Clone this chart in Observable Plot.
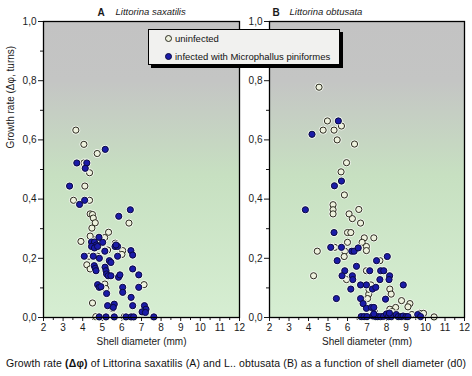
<!DOCTYPE html>
<html><head><meta charset="utf-8">
<script src="https://cdn.jsdelivr.net/npm/d3@7"></script>
<script src="https://cdn.jsdelivr.net/npm/@observablehq/plot@0.6"></script>
<style>
body{margin:0;background:#fff;font-family:"Liberation Sans",Arial,sans-serif;}
#wrap{position:relative;width:472px;height:376px;overflow:hidden;background:#fff}
.panel{position:absolute;top:0}
#legend{position:absolute;left:148px;top:29px;width:192px;height:36px;border:1px solid #000;box-shadow:3px 3px 0 #000;background:#f1f1ef;font-size:9.5px;color:#111;box-sizing:border-box}
#legend .row{position:absolute;left:15px;display:flex;align-items:center;gap:2px;white-space:nowrap}
#caption{position:absolute;left:0;top:357px;width:472px;text-align:center;font-size:10.5px;letter-spacing:0.12px;color:#111;white-space:nowrap}
</style></head>
<body>
<svg width="0" height="0" style="position:absolute">
  <defs>
    <linearGradient id="bgGrad" x1="0" y1="0" x2="0" y2="1">
      <stop offset="0" stop-color="#c3c3c3"/>
      <stop offset="0.2" stop-color="#c4c5c4"/>
      <stop offset="0.52" stop-color="#c7e0c1"/>
      <stop offset="1" stop-color="#d6eed2"/>
    </linearGradient>
  </defs>
</svg>
<div id="wrap"></div>
<script>
// ---- data ----
const xTicks = [2,3,4,5,6,7,8,9,10,11,12];
const xMinorTicks = [2.5,3.5,4.5,5.5,6.5,7.5,8.5,9.5,10.5,11.5];
const yTicks = [0,0.2,0.4,0.6,0.8,1.0];
const yMinorTicks = [0.1,0.3,0.5,0.7,0.9];
const panelLetters = ["A","B"];
const speciesNames = ["Littorina saxatilis","Littorina obtusata"];
const legendLabels = ["uninfected","infected with Microphallus piniformes"];
const xLabel = "Shell diameter (mm)";
const yLabel = "Growth rate (\u0394\u03c6, turns)";

const saxatilisUninfected = [
 [3.65,0.633],[4.06,0.585],[4.74,0.554],[4.06,0.522],[4.35,0.489],[4.11,0.444],[3.53,0.396],[4.35,0.396],
 [4.38,0.350],[4.50,0.348],[4.54,0.336],[6.36,0.319],[4.64,0.320],[4.47,0.302],[5.32,0.288],[4.38,0.275],
 [3.91,0.257],[5.12,0.270],[5.27,0.228],[5.66,0.251],[6.04,0.226],[6.00,0.213],[4.32,0.207],[4.76,0.207],
 [4.21,0.178],[4.38,0.164],[7.13,0.111],[5.13,0.113],[5.18,0.098],[4.50,0.049],[5.53,0.030],[4.67,0.003],
 [6.12,0.003],[4.62,0.262],[4.90,0.250]
];
const saxatilisInfected = [
 [5.15,0.568],[3.70,0.522],[4.21,0.522],[4.13,0.504],[3.33,0.444],[4.10,0.396],[3.84,0.382],[5.84,0.342],
 [6.43,0.364],[4.45,0.255],[4.60,0.255],[4.70,0.245],[4.45,0.240],[4.60,0.235],[4.76,0.240],[4.83,0.271],
 [5.02,0.254],[5.13,0.224],[5.65,0.240],[5.78,0.240],[5.70,0.245],[6.46,0.226],[6.55,0.211],[5.78,0.207],
 [4.08,0.207],[4.54,0.207],[4.85,0.200],[5.36,0.192],[5.44,0.186],[4.59,0.175],[4.64,0.166],[4.68,0.158],
 [5.14,0.170],[5.19,0.158],[5.22,0.147],[5.30,0.141],[5.44,0.141],[5.83,0.136],[5.90,0.144],[6.55,0.164],
 [6.86,0.144],[4.76,0.111],[4.84,0.102],[4.93,0.104],[5.22,0.081],[6.04,0.102],[6.04,0.085],[6.86,0.102],
 [6.47,0.068],[5.27,0.040],[5.61,0.045],[5.56,0.034],[6.55,0.040],[7.15,0.040],[7.23,0.028],[7.03,0.019],
 [7.20,0.017],[4.84,0.002],[5.19,0.002],[5.61,0.002],[6.21,0.002],[6.47,0.002],[6.60,0.002],[7.63,0.002]
];
const obtusataUninfected = [
 [4.54,0.778],[4.97,0.664],[5.69,0.647],[4.75,0.633],[5.31,0.633],[5.47,0.600],[6.36,0.586],[5.95,0.523],
 [5.67,0.492],[5.84,0.414],[5.26,0.381],[5.26,0.364],[5.26,0.350],[6.08,0.350],[6.25,0.334],[6.58,0.365],
 [6.67,0.319],[6.00,0.287],[6.17,0.287],[6.00,0.254],[6.86,0.269],[7.35,0.269],[6.75,0.254],[6.97,0.240],
 [6.97,0.226],[5.34,0.237],[5.86,0.224],[5.83,0.206],[4.45,0.224],[4.26,0.141],[7.66,0.192],[6.97,0.158],
 [5.95,0.128],[7.09,0.079],[8.17,0.096],[8.24,0.079],[7.03,0.064],[7.40,0.017],[8.77,0.057],[9.20,0.047],
 [9.10,0.036],[8.17,0.028],[8.47,0.034],[10.44,0.002],[9.69,0.014],[9.90,0.014],[7.20,0.110],[7.10,0.095],
 [8.30,0.020],[9.30,0.010],[8.60,0.006]
];
const obtusataInfected = [
 [5.53,0.664],[4.18,0.619],[5.69,0.461],[5.33,0.445],[3.84,0.364],[5.31,0.287],[5.14,0.237],[5.69,0.237],
 [6.22,0.224],[6.34,0.224],[6.55,0.235],[5.47,0.192],[6.46,0.173],[7.49,0.192],[8.04,0.206],[5.86,0.158],
 [5.72,0.141],[6.25,0.141],[6.27,0.128],[7.14,0.158],[7.70,0.158],[7.86,0.158],[8.16,0.141],[7.66,0.128],
 [8.13,0.128],[6.17,0.096],[6.67,0.110],[6.97,0.110],[7.28,0.096],[7.45,0.102],[8.86,0.110],[7.95,0.062],
 [5.43,0.064],[6.67,0.064],[6.80,0.047],[6.97,0.031],[7.23,0.034],[7.35,0.034],
 [6.70,0.003],[6.85,0.003],[7.00,0.003],[7.30,0.005],[7.45,0.003],[7.55,0.003],[7.70,0.003],[7.85,0.004],
 [8.00,0.012],[8.10,0.003],[8.25,0.003],[8.50,0.010],[8.60,0.003],[8.75,0.003],[8.85,0.005],[9.00,0.003],
 [9.10,0.003],[9.60,0.010],[9.75,0.003],[7.35,0.012],[8.15,0.015]
];

// ---- drawing ----
const fmt = d => d.toFixed(1).replace(".", ",");
const toObj = arr => arr.map(([x, y]) => ({x, y}));
const openFill = "#eef1de", filledFill = "#1b1ba8", haloFill = "#f3f7ef";

function panel(o) {
  const un = toObj(o.uninf), inf = toObj(o.inf);
  const marks = [
    Plot.frame({fill: "url(#bgGrad)"}),
    Plot.axisX(xMinorTicks, {tickSize: 3, tickFormat: () => "", label: null}),
    Plot.axisX(xTicks, {tickSize: 4, tickPadding: 2, tickFormat: d => String(d), label: null, fontSize: 10}),
    Plot.axisY(yMinorTicks, {tickSize: 3, tickFormat: () => "", label: null}),
    Plot.axisY(yTicks, {tickSize: 5, tickPadding: 2, tickFormat: fmt, label: null, fontSize: 10}),
    Plot.dot(un, {x: "x", y: "y", r: 4.4, fill: haloFill, stroke: null}),
    Plot.dot(un, {x: "x", y: "y", r: 3.1, fill: openFill, stroke: "#2a2a1e", strokeWidth: 1}),
    Plot.dot(inf, {x: "x", y: "y", r: 4.4, fill: haloFill, stroke: null}),
    Plot.dot(inf, {x: "x", y: "y", r: 3.1, fill: filledFill, stroke: "#0a0a40", strokeWidth: 1}),
    Plot.frame({stroke: "#000", strokeWidth: 1.3}),
    Plot.text([o.letter], {frameAnchor: "top-left", dx: o.letterDx, dy: -13, textAnchor: "start", fontSize: 10, fontWeight: "bold"}),
    Plot.text([o.species], {frameAnchor: "top-left", dx: o.speciesDx, dy: -13, textAnchor: "start", fontSize: 9.5, fontStyle: "italic"}),
    Plot.text([xLabel], {frameAnchor: "bottom", dy: 27, fontSize: 10})
  ];
  if (o.ylabel) marks.push(Plot.text([o.ylabel], {frameAnchor: "left", rotate: -90, dx: -33, dy: -21, fontSize: 10}));
  return Plot.plot({
    width: o.width, height: 355,
    marginLeft: o.ml, marginRight: o.mr, marginTop: 21, marginBottom: 38,
    style: {fontFamily: "Liberation Sans, Arial, sans-serif", fontSize: "10px", color: "#1a1a1a", background: "transparent", overflow: "visible"},
    x: {domain: [2, 12]},
    y: {domain: [0, 1]},
    marks
  });
}

const wrap = document.getElementById("wrap");
const pA = panel({width: 240, ml: 43, mr: 1, uninf: saxatilisUninfected, inf: saxatilisInfected,
  letter: panelLetters[0], species: speciesNames[0], letterDx: 54, speciesDx: 72, ylabel: yLabel});
pA.classList.add("panel"); pA.style.left = "0px";
wrap.appendChild(pA);
const pB = panel({width: 232, ml: 29, mr: 8, uninf: obtusataUninfected, inf: obtusataInfected,
  letter: panelLetters[1], species: speciesNames[1], letterDx: 3, speciesDx: 20, ylabel: null});
pB.classList.add("panel"); pB.style.left = "240px";
wrap.appendChild(pB);

// legend
const legend = document.createElement("div");
legend.id = "legend";
legend.innerHTML = `
 <div class="row" style="top:3px"><svg width="9" height="9"><circle cx="4.5" cy="4.5" r="3" fill="${openFill}" stroke="#2a2a1e"/></svg><span>${legendLabels[0]}</span></div>
 <div class="row" style="top:21px"><svg width="9" height="9"><circle cx="4.5" cy="4.5" r="3" fill="${filledFill}" stroke="#0a0a40"/></svg><span>${legendLabels[1]}</span></div>`;
wrap.appendChild(legend);

// caption
const cap = document.createElement("div");
cap.id = "caption";
cap.innerHTML = "Growth rate <b>(\u0394\u03c6)</b> of Littorina saxatilis (A) and L.. obtusata (B) as a function of shell diameter (d0)";
wrap.appendChild(cap);
</script>
</body></html>
